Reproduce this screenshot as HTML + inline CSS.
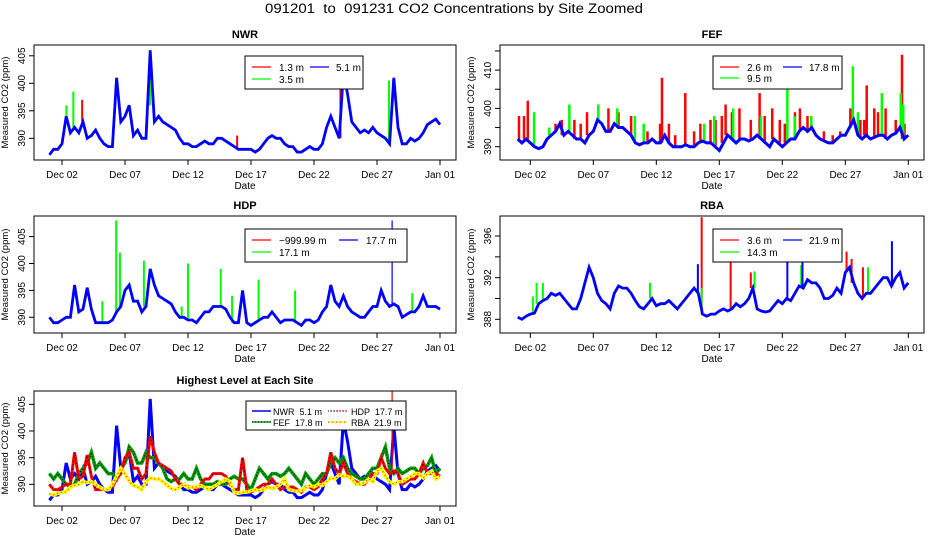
<!DOCTYPE html>
<html><head><meta charset="utf-8"><style>
html,body{margin:0;padding:0;background:#fff;}
svg{display:block;font-family:"Liberation Sans",Arial,sans-serif;}
text{white-space:pre;}
</style></head><body>
<svg id="chart" width="936" height="540" viewBox="0 0 936 540" xmlns="http://www.w3.org/2000/svg">
<rect x="0" y="0" width="936" height="540" fill="#fff"/>
<text x="265" y="13" font-size="13.5" textLength="378" lengthAdjust="spacingAndGlyphs">091201  to  091231 CO2 Concentrations by Site Zoomed</text>
</svg>
<script>
// time axis: samples every 1/3 day starting Dec 01
const startDay = 1;
const stepDay = 1/3;
const xTickDays = [2,7,12,17,22,27,32];
const xTickLabels = ["Dec 02","Dec 07","Dec 12","Dec 17","Dec 22","Dec 27","Jan 01"];

// NWR
const nwrBlue = [387,388,388,389,394,391,392,391,393,390,390.5,391.5,390,389,388.5,388.5,401,393,394,396,390.5,391.5,390,390,406,393,394,393,392.5,392,391.5,390,389,389,388.5,388.5,389,389.5,389,389,390,390,389.5,389,388.5,388,388,388,388,387.5,388,389,390,390.5,390,390,389,388.5,388.5,387.5,387.5,388,388.5,388,388,389,392,394,392,390,402,398,393,392,391,391.5,391,392,391,390.5,390,389,401,392,389,389,390,389.5,390,391,392.5,393,393.5,392.5];
const nwrRedT = [3.6,9.0,15.9,24.1];
const nwrRedV = [397,402,390.5,402.5];
const nwrGreenT = [2.35,2.9,9.0,27.95];
const nwrGreenV = [396,398.5,396,400.5];

// FEF
const fefBlue = [392,391,392,391,390,389.5,390,392,393,394,396,393,394,393,392,392,391,393,394,397,396,394,394,396,395,395,394,393,391,390.5,391,391,392,391,391,393,391,390,390,390,390.5,390,390,391,391.5,391,391,390,389,391,393,392,391,392,392,391.5,392,393,392,391,390,392,391,390,391,392,392,394,395,394,395,393,392,391.5,391,391,392,393,393,395,397,393,392,393,392,392.5,393,393,392,393,393.5,395,392,393];
const fefRedT = [1.1,1.5,1.8,4.0,4.5,5.5,6.0,6.5,8.2,9.0,10.0,11.3,12.3,12.45,13.0,13.5,14.3,15.0,15.5,16.3,16.7,17.2,17.5,18.0,18.6,19.5,20.2,20.6,21.2,21.8,22.2,23.0,23.4,24.0,25.3,26.0,26.6,27.4,28.2,28.5,28.7,29.3,29.6,30.2,31.0,31.5,31.7];
const fefRedV = [398,398,402,396,397,397,396,399,400,399,398,394,396,408,396,393,404,394,396,397,397,398,401,399,400,397,404,398,400,397,396,399,400,398,394,393,394,400,397,397,406,400,399,400,397,414,396];
const fefGreenT = [2.3,3.5,5.1,7.4,8.9,10.3,11.0,15.8,16.6,18.1,20.3,22.4,23.0,24.3,27.6,28.0,29.9,31.4,31.6];
const fefGreenV = [399,395,401,401,400,398,396,396,398,400,398,405,398,398,411,399,404,404,401];

// HDP
const hdpBlue = [390,389,389,389.5,390,390,396,391,391.5,395.5,391.5,389,389,389,389,389.5,391,392,395,396,393,393,391,392,399,396,394,393.5,393,392.5,391,390,390,389.5,389.5,389,390,391,391,392,392,392,391.5,390,389,389,395,389,388.5,389,389.5,390,390,391,390,389,389.5,389.5,389.5,389,388.5,389.5,389.5,389,389.5,391,392,396,393,392,394,392,391,390.5,390,390,391,392,392,395,393,392,392.5,392,390,390.5,391,391,392,394,392,392,392,391.5];
const hdpGreenT = [5.2,6.3,6.6,8.5,11.5,12.0,14.6,15.5,17.6,20.5,29.8];
const hdpGreenV = [393,408,402,400.5,392,400,399,394,397,395,394.5];
const hdpBlueSpikeT = [28.2];
const hdpBlueSpikeV = [408];

// RBA
const rbaBlue = [388.2,388,388.3,388.5,388.6,389.5,389.8,390,390.5,390.3,390.5,390,389.5,389,389,390,391.5,393,392,390.5,389.8,389.5,389,390.5,391.2,391,391,390.5,389.8,389.2,389,389.5,390,389.3,389.5,389.5,389.8,389.4,389,389.5,390,390.5,391,390.5,388.5,388.3,388.5,388.5,388.8,389,388.8,389,389.5,389.2,389.5,390,391,389,388.8,388.7,388.8,389.3,389.8,389.5,390,389.8,390.5,391.2,391,391.8,391.5,391.5,391,390,390,390.3,391,390.5,392.5,393,391.5,390.5,390,390.5,390.5,391,391.5,392,392,391.2,392,392.5,391,391.5];
const rbaRedT = [15.6,17.9,19.5,27.1,27.5,28.4];
const rbaRedV = [397.8,395.8,392.5,394.5,393.8,393];
const rbaGreenT = [2.2,2.5,3.0,11.5,15.6,19.8,23.5,28.8];
const rbaGreenV = [390.2,391.5,391.5,391.5,391,392.6,393.2,393];
const rbaBlueSpikeT = [15.3,22.4,23.6,30.7];
const rbaBlueSpikeV = [393.3,394.5,394.6,395.5];

const svg = document.getElementById('chart');
const NS = 'http://www.w3.org/2000/svg';
function mk(tag, attrs, parent){
  const e = document.createElementNS(NS, tag);
  for (const k in attrs) e.setAttribute(k, attrs[k]);
  (parent||svg).appendChild(e);
  return e;
}
function tOf(i){ return startDay + i*stepDay; }

function panel(p){
  const g = mk('g', {});
  
  
  const xs = t => p.x0 + (t - 2) * 12.6;
  const ys = v => p.yRef - (v - p.vRef) * p.k;
  const clipId = 'clip-' + p.name;
  const cp = mk('clipPath', {id: clipId}, g);
  mk('rect', {x:p.L, y:p.T, width:p.R-p.L, height:p.B-p.T}, cp);
  const plot = mk('g', {'clip-path':'url(#'+clipId+')'}, g);
  
  
  p.draw(plot, xs, ys);
  const box = mk('rect', {x:p.L, y:p.T, width:p.R-p.L, height:p.B-p.T, fill:'none', stroke:'#000', 'stroke-width':1}, g);
  
  
  const xa = mk('g', {}, g);
  
  
  xTickDays.forEach((d, i) => {
    const x = xs(d);
    mk('line', {x1:x, x2:x, y1:p.B, y2:p.B+5, stroke:'#000'}, xa);
    const tl = mk('text', {x:x, y:p.B+18, 'text-anchor':'middle', 'font-size':10}, xa);
    
    
    tl.textContent = xTickLabels[i];
  });
  const xt = mk('text', {x:(p.L+p.R)/2, y:p.B+29, 'text-anchor':'middle', 'font-size':10}, g);
  
  
  xt.textContent = 'Date';
  const ya = mk('g', {}, g);
  
  
  p.yTicks.forEach(v => {
    const y = ys(v);
    mk('line', {x1:p.L-5, x2:p.L, y1:y, y2:y, stroke:'#000'}, ya);
  });
  p.yLabels.forEach(v => {
    const y = ys(v);
    const tl = mk('text', {x:p.L-9, y:y, 'text-anchor':'middle', 'font-size':10, transform:'rotate(-90 '+(p.L-9)+' '+y+')'}, ya);
    
    
    tl.textContent = String(v);
  });
  const yc = (p.T+p.B)/2;
  const yt = mk('text', {x:p.L-26, y:yc, 'text-anchor':'middle', 'font-size':9.5, transform:'rotate(-90 '+(p.L-26)+' '+yc+')'}, g);
  
  
  yt.textContent = 'Measured CO2 (ppm)';
  const tt = mk('text', {x:(p.L+p.R)/2, y:p.T-7, 'text-anchor':'middle', 'font-size':11, 'font-weight':'bold'}, g);
  
  
  tt.textContent = p.title;
  const lg = mk('g', {}, g);
  
  
  const lb = p.legend;
  mk('rect', {x:lb.x, y:lb.y, width:lb.w, height:lb.h, fill:'#fff', stroke:'#000'}, lg);
  lb.items.forEach(it => {
    const e = mk('g', {}, lg);
    
    
    it.strokes.forEach(s => mk('line', Object.assign({x1:it.lx, x2:it.lx+19, y1:it.y, y2:it.y}, s), e));
    const tx = mk('text', {x:it.tx, y:it.y+4, 'font-size':(lb.fs||10)}, e);
    tx.textContent = it.label;
  });
}

function polyline(parent, series, xs, ys, attrs, name){
  const pts = series.map((v, i) => xs(tOf(i)).toFixed(1) + ',' + ys(v).toFixed(1)).join(' ');
  const pl = mk('polyline', Object.assign({points:pts, fill:'none', 'stroke-linejoin':'miter'}, attrs), parent);
  
  
  return pl;
}
function spikes(parent, base, T, V, xs, ys, color, w, name){
  const g = mk('g', {}, parent);
  
  
  T.forEach((t, j) => {
    const i = Math.max(0, Math.min(base.length-1, Math.round((t - startDay)/stepDay)));
    const x = xs(t);
    mk('line', {x1:x, x2:x, y1:ys(base[i]), y2:ys(V[j]), stroke:color, 'stroke-width':w}, g);
  });
}

const RED='#ff0000', GRN='#00ff00', BLU='#0000ff';
function leg2(x, y, w, h, c2x, t2x, row1, row2, labels, colors){
  return {x:x, y:y, w:w, h:h, items:[
    {lx:x+7, tx:x+34, y:row1, label:labels[0], strokes:[{stroke:colors[0],'stroke-width':1.3}]},
    {lx:c2x, tx:t2x, y:row1, label:labels[1], strokes:[{stroke:colors[1],'stroke-width':1.3}]},
    {lx:x+7, tx:x+34, y:row2, label:labels[2], strokes:[{stroke:colors[2],'stroke-width':1.3}]}
  ]};
}

panel({name:'nwr', title:'NWR', L:34, R:456, T:45, B:160, x0:62, yRef:138.3, vRef:390, k:5.5,
  yTicks:[390,395,400,405], yLabels:[390,395,400,405],
  draw:(g, xs, ys) => {
    spikes(g, nwrBlue, nwrRedT, nwrRedV, xs, ys, RED, 2, 'nwr-1.3m-series');
    spikes(g, nwrBlue, nwrGreenT, nwrGreenV, xs, ys, GRN, 2, 'nwr-3.5m-series');
    polyline(g, nwrBlue, xs, ys, {stroke:BLU, 'stroke-width':2.8}, 'nwr-5.1m-series');
  },
  legend: leg2(245,56,118,33,310,336,67,79,['1.3 m','5.1 m','3.5 m'],[RED,BLU,GRN])
});

panel({name:'fef', title:'FEF', L:500, R:924, T:45, B:160, x0:530.3, yRef:146.7, vRef:390, k:3.83,
  yTicks:[390,395,400,405,410,415], yLabels:[390,400,410],
  draw:(g, xs, ys) => {
    spikes(g, fefBlue, fefRedT, fefRedV, xs, ys, RED, 2.5, 'fef-2.6m-series');
    spikes(g, fefBlue, fefGreenT, fefGreenV, xs, ys, GRN, 2.5, 'fef-9.5m-series');
    polyline(g, fefBlue, xs, ys, {stroke:BLU, 'stroke-width':3}, 'fef-17.8m-series');
  },
  legend: leg2(713,56,129,33,783,809,67,78,['2.6 m','17.8 m','9.5 m'],[RED,BLU,GRN])
});

panel({name:'hdp', title:'HDP', L:34, R:456, T:216, B:333, x0:62, yRef:317.3, vRef:390, k:5.38,
  yTicks:[390,395,400,405], yLabels:[390,395,400,405],
  draw:(g, xs, ys) => {
    spikes(g, hdpBlue, hdpGreenT, hdpGreenV, xs, ys, GRN, 2, 'hdp-17.1m-series');
    polyline(g, hdpBlue, xs, ys, {stroke:BLU, 'stroke-width':2.8}, 'hdp-17.7m-series');
    spikes(g, hdpBlue, hdpBlueSpikeT, hdpBlueSpikeV, xs, ys, BLU, 1.2, 'hdp-17.7m-spike');
  },
  legend: leg2(245,229,162,33,339,366,240,252,['\u2212999.99 m','17.7 m','17.1 m'],[RED,BLU,GRN])
});

panel({name:'rba', title:'RBA', L:500, R:924, T:216, B:333, x0:530.3, yRef:319.3, vRef:388, k:10.41,
  yTicks:[388,390,392,394,396], yLabels:[388,392,396],
  draw:(g, xs, ys) => {
    spikes(g, rbaBlue, rbaRedT, rbaRedV, xs, ys, RED, 2, 'rba-3.6m-series');
    spikes(g, rbaBlue, rbaGreenT, rbaGreenV, xs, ys, GRN, 2, 'rba-14.3m-series');
    polyline(g, rbaBlue, xs, ys, {stroke:BLU, 'stroke-width':2.8}, 'rba-21.9m-series');
    spikes(g, rbaBlue, rbaBlueSpikeT, rbaBlueSpikeV, xs, ys, BLU, 2, 'rba-21.9m-spikes');
  },
  legend: leg2(713,229,129,33,783,809,240,252,['3.6 m','21.9 m','14.3 m'],[RED,BLU,GRN])
});

panel({name:'highest', title:'Highest Level at Each Site', L:34, R:456, T:391, B:506, x0:62, yRef:484.3, vRef:390, k:5.33,
  yTicks:[390,395,400,405], yLabels:[390,395,400,405],
  draw:(g, xs, ys) => {
    polyline(g, nwrBlue, xs, ys, {stroke:BLU, 'stroke-width':3}, 'nwr-5.1m-line');
    polyline(g, fefBlue, xs, ys, {stroke:'#00a000', 'stroke-width':3.5}, 'fef-17.8m-line');
    polyline(g, fefBlue, xs, ys, {stroke:'#000', 'stroke-width':1.2, 'stroke-dasharray':'1 2'}, 'fef-17.8m-dots');
    polyline(g, hdpBlue, xs, ys, {stroke:RED, 'stroke-width':3}, 'hdp-17.7m-line');
    polyline(g, hdpBlue, xs, ys, {stroke:'#000', 'stroke-width':1, 'stroke-dasharray':'1 3'}, 'hdp-17.7m-dots');
    spikes(g, hdpBlue, hdpBlueSpikeT, hdpBlueSpikeV, xs, ys, RED, 1.2, 'hdp-17.7m-spike');
    polyline(g, rbaBlue, xs, ys, {stroke:'#ffff00', 'stroke-width':3.5}, 'rba-21.9m-line');
    polyline(g, rbaBlue, xs, ys, {stroke:RED, 'stroke-width':1, 'stroke-dasharray':'1 3'}, 'rba-21.9m-dots');
  },
  legend: {x:246, y:401, w:160, h:29, fs:9, items:[
    {lx:252, tx:273, y:411, label:'NWR  5.1 m', strokes:[{stroke:BLU,'stroke-width':1.5}]},
    {lx:328, tx:351, y:411, label:'HDP  17.7 m', strokes:[{stroke:'#000','stroke-width':1,'stroke-dasharray':'1 2'},{stroke:RED,'stroke-width':1,'stroke-dasharray':'1 2','stroke-dashoffset':1}]},
    {lx:252, tx:273, y:422, label:'FEF  17.8 m', strokes:[{stroke:'#00a000','stroke-width':1.5},{stroke:'#000','stroke-width':1,'stroke-dasharray':'1 2'}]},
    {lx:328, tx:351, y:422, label:'RBA  21.9 m', strokes:[{stroke:'#ffff00','stroke-width':1.5},{stroke:RED,'stroke-width':1,'stroke-dasharray':'1 3'}]}
  ]}
});
</script>
</body></html>
